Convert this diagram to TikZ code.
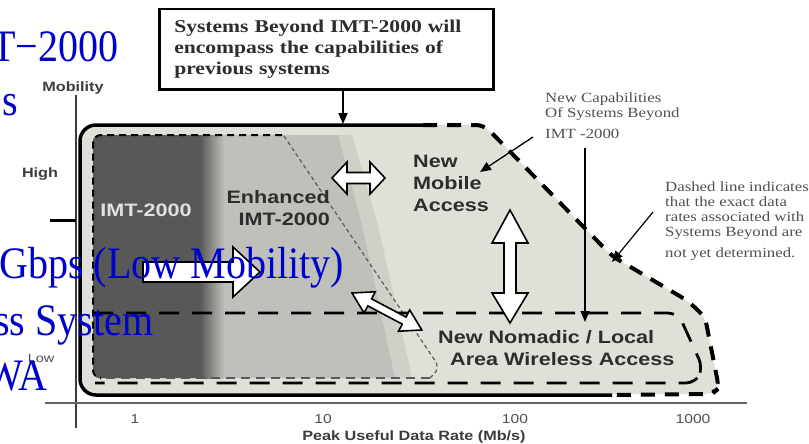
\documentclass[tikz,border=0pt]{standalone}
\usepackage{fontspec}
\setmainfont{Liberation Serif}
\newfontfamily\diagsans[FakeStretch=1.2]{Liberation Sans}
\newfontfamily\diagserif[FakeStretch=1.2]{Liberation Serif}
\newfontfamily\slideserif[FakeStretch=0.89]{Liberation Serif}
\usetikzlibrary{arrows.meta}
\definecolor{slideblue}{RGB}{0,0,204}
\definecolor{darkfill}{RGB}{88,88,88}
\definecolor{midfill}{RGB}{192,192,186}
\definecolor{bandfill}{RGB}{208,208,200}
\definecolor{lightfill}{RGB}{224,224,216}
\definecolor{labelgray}{RGB}{45,45,45}
\definecolor{axisgray}{RGB}{60,60,60}
\definecolor{notegray}{RGB}{80,80,80}
\definecolor{diaggray}{RGB}{90,90,90}
\tikzset{
  slidetext/.style={text=slideblue, font=\slideserif\fontsize{45}{45}\selectfont, anchor=base west, inner sep=0},
  biglabel/.style={font=\diagsans\bfseries\fontsize{18}{22}\selectfont, text=labelgray, inner sep=0},
  axislabel/.style={font=\diagsans\bfseries\fontsize{13.5}{16}\selectfont, text=axisgray, inner sep=0, anchor=base},
  ticklabel/.style={font=\diagsans\fontsize{13}{16}\selectfont, text=notegray, inner sep=0, anchor=base},
  notetext/.style={font=\diagserif\fontsize{14}{15}\selectfont, text=notegray, inner sep=0, align=left, anchor=north west},
  blockarrow/.style={fill=white, draw=black, line width=1.6, line join=miter},
  thinarrow/.style={draw=black, -{Triangle[length=11pt,width=9pt]}},
  outerline/.style={line width=3.5, black},
  outerdash/.style={line width=4, black, dash pattern=on 14pt off 10pt},
  nomadash/.style={line width=2.8, black, dash pattern=on 20pt off 13pt},
}
\begin{document}
\begin{tikzpicture}[x=1pt,y=-1pt]
\useasboundingbox (0,0) rectangle (809,444);
\fill[white] (0,0) rectangle (809,444);

% axes
\draw[axisgray, line width=2] (76,95) -- (76,428);
\draw[axisgray!80, line width=1.8] (45,403) -- (747,403);
\draw[black, line width=3] (50,220) -- (76,220);

% overall envelope of systems beyond IMT-2000
\fill[lightfill] (423,125) [rounded corners=8] -- (484,125) -- (612,256) -- (688,301) -- (705,317) -- (719,388) -- (712,394) [rounded corners=16] -- (80,395) -- (80,125) -- cycle;

% enhanced IMT-2000 area
\fill[bandfill] (212,135) -- (352,135) -- (378,225) -- (412,378) -- (212,378) -- cycle;
\fill[midfill] (212,135) -- (338,135) -- (362,225) -- (395,378) -- (212,378) -- cycle;
% IMT-2000 area
\fill[darkfill, rounded corners=6] (93,135) rectangle (212,378);
\shade[left color=darkfill, right color=midfill] (200,135) rectangle (224,378);

% region boundaries
\draw[black, line width=2, dash pattern=on 7pt off 5pt, rounded corners=8] (282,135) -- (93,135) -- (93,378) -- (100,378);
\draw[diaggray, line width=1.2, dash pattern=on 4pt off 3pt, rounded corners=8] (284,136) -- (440,368) -- (430,378);
\draw[diaggray, line width=1.5, dash pattern=on 9pt off 6pt] (430,378) -- (100,378);
\draw[nomadash, rounded corners=10] (93,313) -- (678,313) -- (703,368) -- (696,383) -- (95,383);

% envelope outline
\draw[outerline, rounded corners=16] (423,125) -- (80,125) -- (80,395) -- (612,395);
\draw[outerdash, rounded corners=8] (423,125) -- (484,125) -- (612,256) -- (688,301) -- (705,317) -- (719,388) -- (712,394) -- (612,395);

% block arrows
\draw[blockarrow] (332,178) -- (347,162) -- (347,172.5) -- (370,172.5) -- (370,162) -- (385,178) -- (370,194) -- (370,183.5) -- (347,183.5) -- (347,194) -- cycle;
\draw[blockarrow] (510,210) -- (528,243) -- (516,243) -- (516,293) -- (528,293) -- (510,323) -- (492,293) -- (504,293) -- (504,243) -- (492,243) -- cycle;
\draw[blockarrow] (143,262) -- (233,262) -- (233,247) -- (260,272) -- (233,297) -- (233,282) -- (143,282) -- cycle;
\begin{scope}[shift={(352,293)}, rotate=-27.9]
  \draw[blockarrow] (0,0) -- (20,-12) -- (20,-4) -- (59,-4) -- (59,-12) -- (79,0) -- (59,12) -- (59,4) -- (20,4) -- (20,12) -- cycle;
\end{scope}

% region labels
\node[biglabel, text=white!88!black, anchor=base] (imtlbl) at (146,216) {IMT-2000};
\node[biglabel, align=right, anchor=north east] (enhlbl) at (330,190) {Enhanced\\IMT-2000};
\node[biglabel, align=left, anchor=north west] (moblbl) at (413,155) {New\\Mobile\\Access};
\node[biglabel, align=left, anchor=north west] (nomlbl) at (438,330) {New Nomadic / Local\\\hspace*{12pt}Area Wireless Access};

% heading box
\node[draw=black, line width=2.5, anchor=north west, inner xsep=15pt, inner ysep=11pt, text width=304pt, align=left,
      font=\diagserif\bfseries\fontsize{18}{21}\selectfont, text=labelgray] (goalbox) at (158,8)
      {Systems Beyond IMT-2000 will\\encompass the capabilities of\\previous systems};
\coordinate (topin) at (343,124);
\draw[thinarrow, line width=2] (goalbox.south -| topin) -- (topin);

% side notes
\node[notetext] (capnote) at (545,92.4) {New Capabilities\\Of Systems Beyond\\[6pt]IMT -2000};
\coordinate (captop) at (585,148);
\coordinate (capend) at (585,322);
\draw[thinarrow, line width=1.5] (captop) -- (capend);

\node[notetext] (dashnote) at (665,181.4) {Dashed line indicates\\that the exact data\\rates associated with\\Systems Beyond are\\[6pt]not yet determined.};
\coordinate (dashfrom) at (653,212);
\coordinate (dashto) at (612,262);
\draw[thinarrow, line width=1.2] (dashfrom) -- (dashto);

\coordinate (mobfrom) at (533,137);
\coordinate (mobto) at (480,172);
\draw[thinarrow, line width=1.3] (mobfrom) -- (mobto);

% axis labels
\node[axislabel] (ylbl) at (73,92) {Mobility};
\node[axislabel] (highlbl) at (40,177) {High};
\node[axislabel, font=\diagsans\fontsize{12}{14}\selectfont, text=notegray] (lowlbl) at (41,362) {Low};
\node[ticklabel] (t1) at (135,423) {1};
\node[ticklabel] (t10) at (323,423) {10};
\node[ticklabel] (t100) at (515,423) {100};
\node[ticklabel] (t1000) at (693,423) {1000};
\node[axislabel] (xlbl) at (414,440) {Peak Useful Data Rate (Mb/s)};

% slide text lying over the figure
\node[slidetext] (s1) at (-9,62) {T−2000};
\node[slidetext] (s2) at (2,115) {s};
\node[slidetext] (s3) at (-1,278) {Gbps (Low Mobility)};
\node[slidetext] (s4) at (-6,335) {ss System};
\node[slidetext] (s5) at (-15,390) {WA};
\end{tikzpicture}
\end{document}
